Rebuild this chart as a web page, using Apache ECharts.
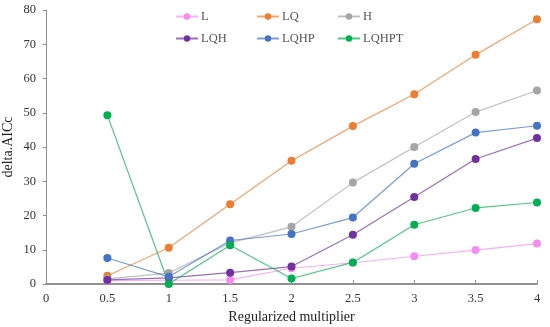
<!DOCTYPE html>
<html><head><meta charset="utf-8">
<script src="https://cdn.jsdelivr.net/npm/echarts@6/dist/echarts.min.js"></script>
<style>html,body{margin:0;padding:0;background:#fff}#c{width:550px;height:327px}</style>
</head><body><div id="c"></div>
<script>
const xValues = [0.5, 1, 1.5, 2, 2.5, 3, 3.5, 4];
const seriesNames = ['L', 'LQ', 'H', 'LQH', 'LQHP', 'LQHPT'];
const L_vals = [1.0, 1.1, 1.2, 4.6, 6.2, 8.1, 9.9, 11.8];
const LQ_vals = [2.4, 10.6, 23.3, 36.0, 46.1, 55.4, 66.9, 77.3];
const H_vals = [1.5, 3.2, 12.0, 16.7, 29.6, 40.0, 50.2, 56.5];
const LQH_vals = [1.2, 1.8, 3.3, 5.1, 14.4, 25.4, 36.5, 42.6];
const LQHP_vals = [7.6, 2.1, 12.7, 14.6, 19.4, 35.1, 44.2, 46.2];
const LQHPT_vals = [49.3, 0.0, 11.3, 1.6, 6.3, 17.3, 22.2, 23.8];
const colors = ['#F78CF0', '#ED7D31', '#A5A5A5', '#7030A0', '#4472C4', '#00B050'];
const allVals = [L_vals, LQ_vals, H_vals, LQH_vals, LQHP_vals, LQHPT_vals];

const font = "'Liberation Serif', 'Times New Roman', serif";
const legendLeft = [175, 256, 337, 175, 256, 337];
const legendTop = [10, 10, 10, 32, 32, 32];
const chart = echarts.init(document.getElementById('c'), null, {renderer: 'canvas'});
chart.setOption({
  animation: false,
  color: colors,
  textStyle: {fontFamily: font},
  legend: seriesNames.map((n, i) => ({
    left: legendLeft[i], top: legendTop[i], padding: 0,
    itemWidth: 22, itemHeight: 8, itemGap: 4,
    textStyle: {fontFamily: font, fontSize: 12.5, color: '#555', padding: [0, 0, 0, -2]},
    data: [n]
  })),
  grid: {left: 46, right: 13, top: 10, bottom: 43, outerBoundsMode: 'none', containLabel: false},
  xAxis: {
    type: 'value', min: 0, max: 4, interval: 0.5,
    name: 'Regularized multiplier', nameLocation: 'middle', nameGap: 26, nameMoveOverlap: false,
    nameTextStyle: {fontFamily: font, fontSize: 14, color: '#222'},
    axisLine: {lineStyle: {color: '#909090', width: 2}},
    axisTick: {show: true, inside: true, length: 4, lineStyle: {color: '#909090'}},
    axisLabel: {fontFamily: font, fontSize: 12.5, color: '#333', margin: 8},
    splitLine: {show: false}
  },
  yAxis: {
    type: 'value', min: 0, max: 80, interval: 10,
    name: 'delta.AICc', nameLocation: 'middle', nameGap: 38, nameRotate: 90, nameMoveOverlap: false,
    nameTextStyle: {fontFamily: font, fontSize: 14, color: '#222', verticalAlign: 'middle', align: 'center'},
    axisLine: {show: true, lineStyle: {color: '#909090', width: 1}},
    axisTick: {show: true, inside: false, length: 3, lineStyle: {color: '#909090'}},
    axisLabel: {fontFamily: font, fontSize: 12.5, color: '#333', margin: 10},
    splitLine: {show: false}
  },
  series: seriesNames.map((n, i) => ({
    name: n, type: 'line',
    data: xValues.map((x, j) => [x, allVals[i][j]]),
    symbol: 'circle', symbolSize: 8,
    itemStyle: {color: colors[i]},
    lineStyle: {width: 1.2, color: colors[i], opacity: 0.7}
  }))
});
</script></body></html>
